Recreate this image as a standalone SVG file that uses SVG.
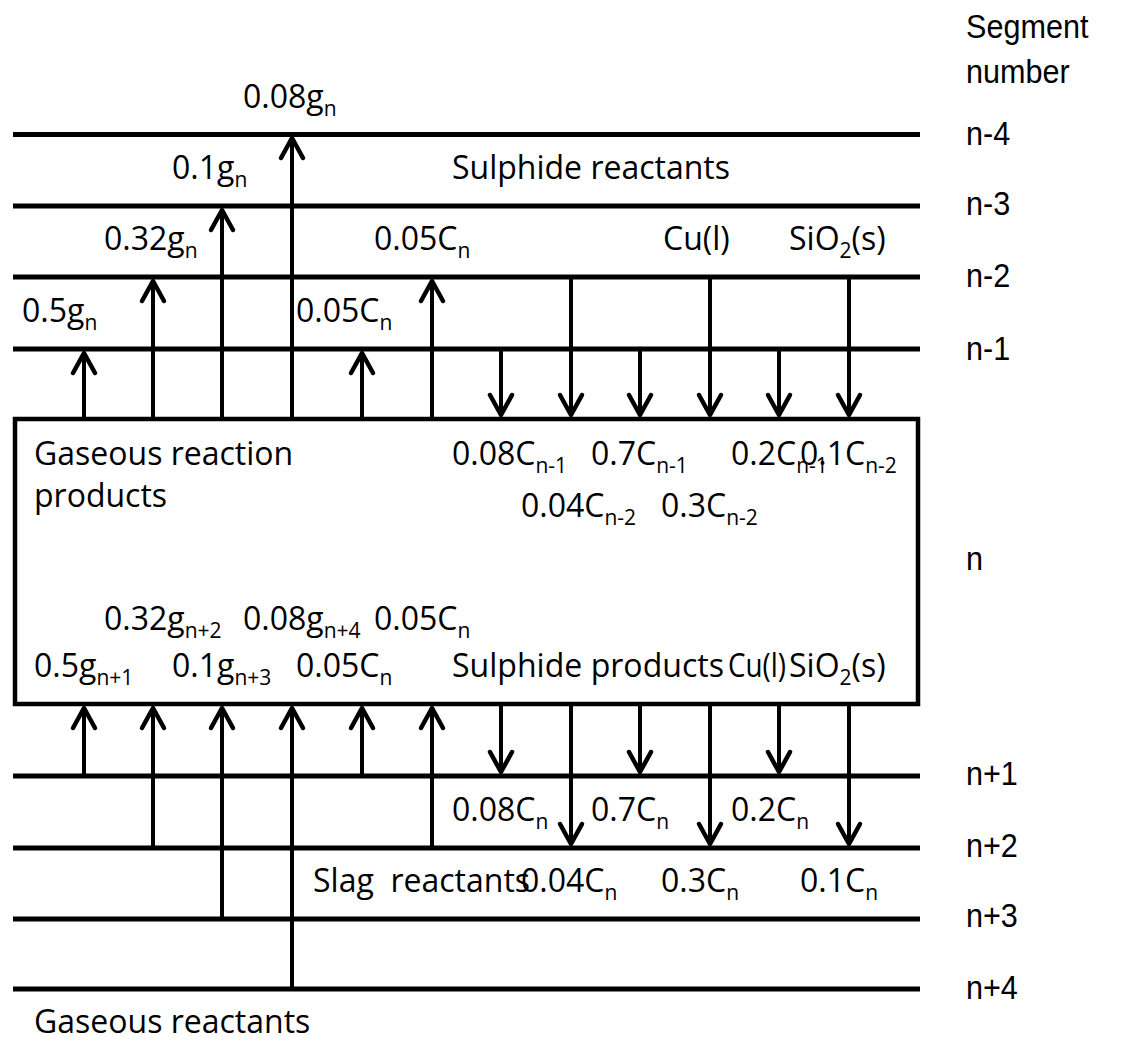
<svg xmlns="http://www.w3.org/2000/svg" width="1122" height="1041" viewBox="0 0 1122 1041">
<style>
.t{font-family:"Open Sans","Lato",sans-serif;font-size:32px;fill:#000}
.s{font-size:21px}
.r{font-family:"Liberation Sans",Arial,sans-serif;font-size:34px;fill:#000}
.lvl{stroke:#000;stroke-width:5;fill:none}
.ar{stroke:#000;stroke-width:4;fill:none;marker-end:url(#ah)}
</style>
<defs>
<marker id="ah" markerUnits="userSpaceOnUse" orient="auto" overflow="visible" refX="0" refY="0" markerWidth="30" markerHeight="30">
<path d="M-20,-11 L0,0 L-20,11" fill="none" stroke="#000" stroke-width="4.5" stroke-linejoin="round" stroke-linecap="round"/>
</marker>
</defs>
<rect width="1122" height="1041" fill="#fff"/>

<g id="levels">
<line class="lvl" x1="13" y1="134.5" x2="920" y2="134.5"/>
<line class="lvl" x1="13" y1="206" x2="920" y2="206"/>
<line class="lvl" x1="13" y1="277" x2="920" y2="277"/>
<line class="lvl" x1="13" y1="349" x2="920" y2="349"/>
<line class="lvl" x1="13" y1="776" x2="920" y2="776"/>
<line class="lvl" x1="13" y1="848" x2="920" y2="848"/>
<line class="lvl" x1="13" y1="919" x2="920" y2="919"/>
<line class="lvl" x1="13" y1="989" x2="920" y2="989"/>
</g>

<g id="segment-n">
<rect x="15" y="419" width="903" height="285" fill="none" stroke="#000" stroke-width="4.5"/>
</g>

<g id="connectors">
<line class="ar" x1="84" y1="419" x2="84" y2="353"/>
<line class="ar" x1="153" y1="419" x2="153" y2="281"/>
<line class="ar" x1="222" y1="419" x2="222" y2="210"/>
<line class="ar" x1="292" y1="419" x2="292" y2="138"/>
<line class="ar" x1="362" y1="419" x2="362" y2="353"/>
<line class="ar" x1="432" y1="419" x2="432" y2="281"/>
<line class="ar" x1="501" y1="349" x2="501" y2="415"/>
<line class="ar" x1="571" y1="277" x2="571" y2="415"/>
<line class="ar" x1="640" y1="349" x2="640" y2="415"/>
<line class="ar" x1="710" y1="277" x2="710" y2="415"/>
<line class="ar" x1="779" y1="349" x2="779" y2="415"/>
<line class="ar" x1="849" y1="277" x2="849" y2="415"/>
<line class="ar" x1="84" y1="776" x2="84" y2="708"/>
<line class="ar" x1="153" y1="848" x2="153" y2="708"/>
<line class="ar" x1="222" y1="919" x2="222" y2="708"/>
<line class="ar" x1="292" y1="989" x2="292" y2="708"/>
<line class="ar" x1="362" y1="776" x2="362" y2="708"/>
<line class="ar" x1="432" y1="848" x2="432" y2="708"/>
<line class="ar" x1="501" y1="704" x2="501" y2="772"/>
<line class="ar" x1="571" y1="704" x2="571" y2="844"/>
<line class="ar" x1="640" y1="704" x2="640" y2="772"/>
<line class="ar" x1="710" y1="704" x2="710" y2="844"/>
<line class="ar" x1="779" y1="704" x2="779" y2="772"/>
<line class="ar" x1="849" y1="704" x2="849" y2="844"/>
</g>

<g id="labels">
<text class="t" x="243" y="108">0.08g<tspan class="s" dy="8">n</tspan></text>
<text class="t" x="172" y="179">0.1g<tspan class="s" dy="8">n</tspan></text>
<text class="t" x="452" y="179">Sulphide reactants</text>
<text class="t" x="104" y="250">0.32g<tspan class="s" dy="8">n</tspan></text>
<text class="t" x="374" y="250">0.05C<tspan class="s" dy="8">n</tspan></text>
<text class="t" x="663" y="250">Cu(l)</text>
<text class="t" x="789" y="250">SiO<tspan class="s" dy="8">2</tspan><tspan dy="-8">(s)</tspan></text>
<text class="t" x="22" y="322">0.5g<tspan class="s" dy="8">n</tspan></text>
<text class="t" x="296" y="322">0.05C<tspan class="s" dy="8">n</tspan></text>

<text class="t" x="34" y="465">Gaseous reaction</text>
<text class="t" x="34" y="507">products</text>
<text class="t" x="452" y="465">0.08C<tspan class="s" dy="8">n-1</tspan></text>
<text class="t" x="591" y="465">0.7C<tspan class="s" dy="8">n-1</tspan></text>
<text class="t" x="731" y="465">0.2C<tspan class="s" dy="8">n-1</tspan></text>
<text class="t" x="800" y="465">0.1C<tspan class="s" dy="8">n-2</tspan></text>
<text class="t" x="521" y="517">0.04C<tspan class="s" dy="8">n-2</tspan></text>
<text class="t" x="661" y="517">0.3C<tspan class="s" dy="8">n-2</tspan></text>

<text class="t" x="104" y="630">0.32g<tspan class="s" dy="8">n+2</tspan></text>
<text class="t" x="243" y="630">0.08g<tspan class="s" dy="8">n+4</tspan></text>
<text class="t" x="374" y="630">0.05C<tspan class="s" dy="8">n</tspan></text>
<text class="t" x="34" y="677">0.5g<tspan class="s" dy="8">n+1</tspan></text>
<text class="t" x="172" y="677">0.1g<tspan class="s" dy="8">n+3</tspan></text>
<text class="t" x="296" y="677">0.05C<tspan class="s" dy="8">n</tspan></text>
<text class="t" x="452" y="677" textLength="272" lengthAdjust="spacingAndGlyphs">Sulphide products</text>
<text class="t" x="728" y="677" textLength="58" lengthAdjust="spacingAndGlyphs">Cu(l)</text>
<text class="t" x="789" y="677">SiO<tspan class="s" dy="8">2</tspan><tspan dy="-8">(s)</tspan></text>

<text class="t" x="452" y="821">0.08C<tspan class="s" dy="8">n</tspan></text>
<text class="t" x="591" y="821">0.7C<tspan class="s" dy="8">n</tspan></text>
<text class="t" x="731" y="821">0.2C<tspan class="s" dy="8">n</tspan></text>
<text class="t" x="313" y="892" xml:space="preserve">Slag  reactants</text>
<text class="t" x="521" y="892">0.04C<tspan class="s" dy="8">n</tspan></text>
<text class="t" x="661" y="892">0.3C<tspan class="s" dy="8">n</tspan></text>
<text class="t" x="800" y="892">0.1C<tspan class="s" dy="8">n</tspan></text>
<text class="t" x="34" y="1033">Gaseous reactants</text>

<g transform="translate(966,0) scale(0.9,1)">
<text class="r" x="0" y="38">Segment</text>
<text class="r" x="0" y="83">number</text>
<text class="r" x="0" y="145">n-4</text>
<text class="r" x="0" y="215">n-3</text>
<text class="r" x="0" y="287">n-2</text>
<text class="r" x="0" y="360">n-1</text>
<text class="r" x="0" y="570">n</text>
<text class="r" x="0" y="785">n+1</text>
<text class="r" x="0" y="857">n+2</text>
<text class="r" x="0" y="927">n+3</text>
<text class="r" x="0" y="999">n+4</text>
</g>
</g>
</svg>
